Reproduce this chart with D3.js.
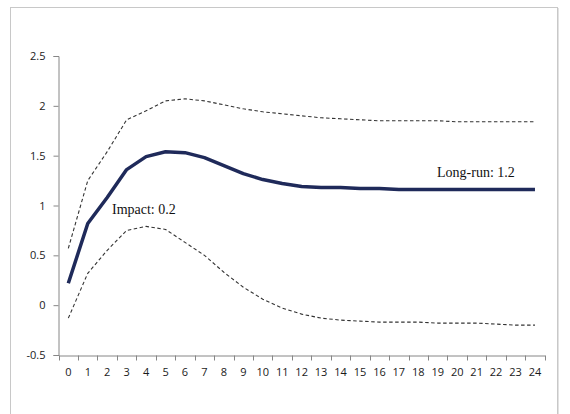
<!DOCTYPE html>
<html>
<head>
<meta charset="utf-8">
<script src="https://cdn.jsdelivr.net/npm/d3@7"></script>
<style>
  body { margin: 0; background: #fff; }
</style>
</head>
<body>
<div id="chart"></div>
<script>
// horizons 0..24
const periods = d3.range(0, 25).map(String);

// point estimate of the response
const response = [0.22, 0.82, 1.08, 1.36, 1.49, 1.54, 1.53, 1.48, 1.40, 1.32,
  1.26, 1.22, 1.19, 1.18, 1.18, 1.17, 1.17, 1.16, 1.16, 1.16,
  1.16, 1.16, 1.16, 1.16, 1.16];

// confidence bands
const upper = [0.57, 1.25, 1.54, 1.86, 1.95, 2.05, 2.07, 2.05, 2.01, 1.97,
  1.94, 1.92, 1.90, 1.88, 1.87, 1.86, 1.85, 1.85, 1.85, 1.85,
  1.84, 1.84, 1.84, 1.84, 1.84];
const lower = [-0.13, 0.32, 0.55, 0.75, 0.79, 0.76, 0.63, 0.50, 0.33, 0.18,
  0.06, -0.03, -0.09, -0.13, -0.15, -0.16, -0.17, -0.17, -0.17, -0.18,
  -0.18, -0.18, -0.19, -0.20, -0.20];

const yTicks = [-0.5, 0, 0.5, 1, 1.5, 2, 2.5];

const W = 570, H = 414;
const svg = d3.select("#chart").append("svg")
  .attr("width", W).attr("height", H);

// outer frame
svg.append("rect")
  .attr("x", 10.5).attr("y", 7.5)
  .attr("width", 547).attr("height", 430)
  .attr("fill", "#fff").attr("stroke", "#c8c8c8");
svg.append("line")
  .attr("x1", 558.5).attr("x2", 558.5).attr("y1", 8).attr("y2", H)
  .attr("stroke", "#e2e2e2");

const x = d3.scaleBand().domain(periods).range([58.6, 544.7]);
const y = d3.scaleLinear().domain([-0.5, 2.5]).range([355, 56]);
const cx = (i) => x(periods[i]) + x.bandwidth() / 2;

const tickFont = "'Open Sans', 'DejaVu Sans', sans-serif";

// y axis
const gy = svg.append("g").attr("transform", "translate(58.5,0)")
  .call(d3.axisLeft(y).tickValues(yTicks).tickSize(5).tickPadding(8)
    .tickFormat((d) => String(d)));
gy.select(".domain").attr("stroke", "#868686");
gy.selectAll(".tick line").attr("stroke", "#868686");
gy.selectAll("text").attr("font-family", tickFont)
  .attr("font-size", 11).attr("fill", "#1a1a1a");

// x axis, labels centered, tick marks at band edges like Excel
const gx = svg.append("g").attr("transform", "translate(0,355.5)")
  .call(d3.axisBottom(x).tickSize(0).tickPadding(13));
gx.select(".domain").attr("stroke", "#868686");
gx.selectAll("text").attr("font-family", tickFont)
  .attr("font-size", 11).attr("fill", "#1a1a1a");
const edges = periods.map((p) => x(p)).concat([x.range()[1]]);
gx.selectAll(".edge").data(edges).join("line")
  .attr("class", "edge")
  .attr("x1", (d) => Math.round(d) + 0.5).attr("x2", (d) => Math.round(d) + 0.5)
  .attr("y1", 0).attr("y2", 5)
  .attr("stroke", "#868686");

const line = d3.line().x((d, i) => cx(i)).y((d) => y(d));

// bands
[upper, lower].forEach((s) => {
  svg.append("path").datum(s)
    .attr("d", line)
    .attr("fill", "none")
    .attr("stroke", "#333")
    .attr("stroke-width", 1.1)
    .attr("stroke-dasharray", "3.5,2.5");
});

// main response
svg.append("path").datum(response)
  .attr("d", line)
  .attr("fill", "none")
  .attr("stroke", "#1f2a5a")
  .attr("stroke-width", 3.5)
  .attr("stroke-linejoin", "round");

// annotations
svg.append("text").attr("x", 112).attr("y", 214)
  .attr("font-family", "'Liberation Serif', serif").attr("font-size", 14)
  .attr("fill", "#111").text("Impact: 0.2");
svg.append("text").attr("x", 437).attr("y", 177)
  .attr("font-family", "'Liberation Serif', serif").attr("font-size", 14)
  .attr("fill", "#111").text("Long-run: 1.2");
</script>
</body>
</html>
